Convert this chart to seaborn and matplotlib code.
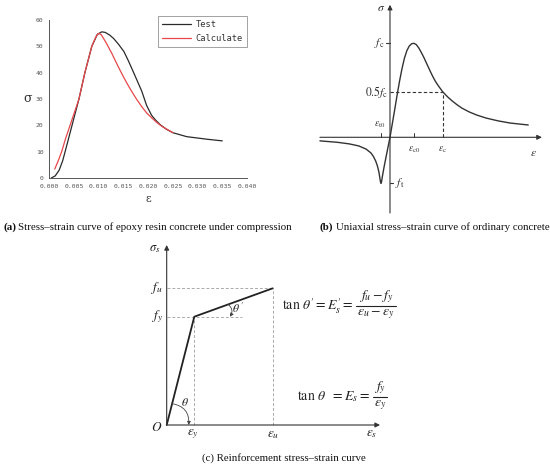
import matplotlib
matplotlib.use("Agg")
import matplotlib.pyplot as plt
from matplotlib.lines import Line2D
from matplotlib.ticker import AutoMinorLocator, FixedLocator
import seaborn as sns

# ---------------- data ----------------
# (a) epoxy resin concrete under compression
test_eps = [0.0004, 0.0012, 0.0020, 0.0027, 0.0032, 0.0039, 0.0046, 0.0053, 0.0060,
            0.0072, 0.0086, 0.0097, 0.0106, 0.0113, 0.0122, 0.0130, 0.0140, 0.0151,
            0.0160, 0.0170, 0.0180, 0.0187, 0.0197, 0.0207, 0.0215, 0.0224, 0.0237,
            0.0250, 0.0278, 0.0320, 0.0350]
test_sig = [0, 0.8, 3, 6.5, 10, 15, 20, 25, 30,
            40, 50, 54.5, 55.5, 55.3, 54.3, 53, 50.8, 48,
            44.5, 40.3, 36, 33, 27.5, 23.8, 22, 20.3, 18.5,
            17.2, 15.7, 14.7, 14.1]
calc_eps = [0.0011, 0.0018, 0.0025, 0.0033, 0.0042, 0.0051, 0.0060, 0.0072, 0.0086,
            0.0094, 0.0099, 0.0105, 0.0116, 0.0126, 0.0136, 0.0147, 0.0157, 0.0167,
            0.0177, 0.0187, 0.0197, 0.0208, 0.0218, 0.0228, 0.0238, 0.0250]
calc_sig = [3.4, 6.5, 10, 15, 20, 25, 30, 40, 50,
            53.5, 54.9, 54.5, 51, 47.5, 43.6, 39.5, 36, 32.8,
            29.8, 27.1, 24.7, 22.7, 21, 19.6, 18.5, 17.2]
a_xticks = [0.000, 0.005, 0.010, 0.015, 0.020, 0.025, 0.030, 0.035, 0.040]
a_yticks = [0, 10, 20, 30, 40, 50, 60]

# (b) ordinary concrete (normalised: eps / eps_c0, sigma / f_c)
conc_eps = [-2.92, -2.2, -1.7, -1.3, -1.0, -0.8, -0.7, -0.6, -0.53, -0.47, -0.43,
            -0.40, -0.375, -0.35, -0.32, -0.25, -0.15, 0,
            0.1, 0.2, 0.3, 0.4, 0.5, 0.6, 0.7, 0.8, 0.9, 1.0,
            1.1, 1.2, 1.3, 1.4, 1.5, 1.6, 1.7, 1.8, 1.9, 2.0, 2.19,
            2.4, 2.6, 2.8, 3.0, 3.3, 3.6, 4.0, 4.5, 5.0, 5.5, 5.76]
conc_sig = [-0.038, -0.053, -0.07, -0.092, -0.125, -0.165, -0.20, -0.25, -0.30, -0.36, -0.42,
            -0.47, -0.49, -0.47, -0.42, -0.32, -0.19, 0,
            0.15, 0.30, 0.455, 0.60, 0.73, 0.84, 0.92, 0.97, 0.995, 1.0,
            0.985, 0.95, 0.905, 0.855, 0.80, 0.745, 0.69, 0.638, 0.592, 0.553, 0.486,
            0.43, 0.385, 0.345, 0.31, 0.27, 0.238, 0.205, 0.175, 0.152, 0.138, 0.131]
eps_t0, eps_c0, eps_c = -0.375, 1.0, 2.19
f_c, half_fc, f_t = 1.0, 0.486, -0.49

# (c) reinforcement (normalised: eps / eps_y, sigma / f_y)
steel_eps = [0, 1.0, 3.84]
steel_sig = [0, 1.0, 1.262]

# ---------------- figure ----------------
sns.set_style("white")
plt.rcParams["mathtext.fontset"] = "stix"
plt.rcParams["font.family"] = ["DejaVu Sans"]

W, H = 550, 466
fig = plt.figure(figsize=(5.5, 4.66), dpi=100)
renderer = fig.canvas.get_renderer()


def px_axes(x0, y0, x1, y1):
    return fig.add_axes([x0 / W, 1 - y1 / H, (x1 - x0) / W, (y1 - y0) / H])


# ---------- (a) ----------
axa = px_axes(49.3, 20, 247, 178)
sns.lineplot(x=test_eps, y=test_sig, ax=axa, color="#2a2a2a", lw=0.9,
             sort=False, label="Test")
sns.lineplot(x=calc_eps, y=calc_sig, ax=axa, color="#e8474a", lw=0.9,
             sort=False, label="Calculate")
axa.set_xlim(0, 0.04)
axa.set_ylim(0, 60)
axa.xaxis.set_major_locator(FixedLocator(a_xticks))
axa.yaxis.set_major_locator(FixedLocator(a_yticks))
axa.set_xticklabels([f"{v:.3f}" for v in a_xticks], family="DejaVu Sans Mono")
axa.set_yticklabels([str(v) for v in a_yticks], family="DejaVu Sans Mono")
axa.xaxis.set_minor_locator(AutoMinorLocator(2))
axa.yaxis.set_minor_locator(AutoMinorLocator(2))
for s in ("top", "right"):
    axa.spines[s].set_visible(False)
for s in ("left", "bottom"):
    axa.spines[s].set_color("#555555")
    axa.spines[s].set_linewidth(0.7)
axa.tick_params(which="major", direction="out", length=2.5, width=0.6,
                color="#555555", labelsize=4.6, labelcolor="#555555", pad=1.5)
axa.tick_params(which="minor", direction="out", length=1.5, width=0.5, color="#555555")
axa.set_xlabel("ε", fontsize=8, family="DejaVu Serif", color="#333333", labelpad=4)
axa.set_ylabel("σ", fontsize=9, family="DejaVu Serif", color="#333333",
               rotation=0, labelpad=6, va="center")
leg = axa.legend(loc="upper right", bbox_to_anchor=(247 / W, 1 - 16 / H),
                 bbox_transform=fig.transFigure, frameon=True, fancybox=False,
                 prop={"family": "DejaVu Sans Mono", "size": 6.3},
                 handlelength=3.3, handletextpad=0.6, borderpad=0.45,
                 labelspacing=0.55, borderaxespad=0)
leg.get_frame().set_edgecolor("#777777")
leg.get_frame().set_linewidth(0.6)
for t in leg.get_texts():
    t.set_color("#333333")

# ---------- (b) ----------
axb = px_axes(300, 0, 550, 220)
axb.set_xlim(-3.75, 6.667)
axb.set_ylim(-0.8798, 1.4606)
axb.axis("off")
ink = "#333333"
arrow_kw = dict(arrowstyle="-|>", lw=0.8, color=ink, mutation_scale=7,
                shrinkA=0, shrinkB=0)
axb.annotate("", xy=(6.33, 0), xytext=(-2.92, 0), arrowprops=arrow_kw)
axb.annotate("", xy=(0, 1.41), xytext=(0, -0.805), arrowprops=arrow_kw)
sns.lineplot(x=conc_eps, y=conc_sig, ax=axb, color=ink, lw=1.0, sort=False)
axb.plot([0, eps_c], [half_fc, half_fc], color=ink, lw=0.8, dashes=(3, 2))
axb.plot([eps_c, eps_c], [0, half_fc], color=ink, lw=0.8, dashes=(3, 2))
axb.plot([-0.17, 0], [f_c, f_c], color=ink, lw=0.8)
axb.plot([0, 0.14], [f_t, f_t], color=ink, lw=0.8)
axb.plot([eps_t0, eps_t0], [0, 0.045], color=ink, lw=0.7)
axb.plot([eps_c0, eps_c0], [0, 0.045], color=ink, lw=0.7)
mt = dict(color=ink, ha="center", va="center")
axb.text(-0.375, 1.386, r"$\sigma$", fontsize=8.5, **mt)
axb.text(-0.22, f_c, r"$f_{\rm c}$", fontsize=8.5, color=ink, ha="right", va="center")
axb.text(-0.08, half_fc, r"$0.5f_{\rm c}$", fontsize=8.5, color=ink, ha="right", va="center")
axb.text(0.2, f_t, r"$f_{\rm t}$", fontsize=8.5, color=ink, ha="left", va="center")
axb.text(eps_t0 - 0.05, 0.13, r"$\varepsilon_{\rm t0}$", fontsize=7, **mt)
axb.text(eps_c0, -0.13, r"$\varepsilon_{\rm c0}$", fontsize=7, **mt)
axb.text(eps_c, -0.13, r"$\varepsilon_{\rm c}$", fontsize=7, **mt)
axb.text(5.96, -0.16, r"$\varepsilon$", fontsize=8.5, **mt)

# ---------- (c) ----------
axc = px_axes(140, 235, 420, 445)
axc.set_xlim(-0.967, 9.178)
axc.set_ylim(-0.1847, 1.7544)
axc.axis("off")
axc.annotate("", xy=(0, 1.662), xytext=(0, 0), arrowprops=arrow_kw)
axc.annotate("", xy=(7.73, 0), xytext=(0, 0), arrowprops=arrow_kw)
gkw = dict(color="#aaaaaa", lw=0.7, dashes=(3, 2))
axc.plot([0, steel_eps[2]], [steel_sig[2], steel_sig[2]], **gkw)
axc.plot([0, 2.72], [steel_sig[1], steel_sig[1]], **gkw)
axc.plot([steel_eps[1], steel_eps[1]], [0, steel_sig[1]], **gkw)
axc.plot([steel_eps[2], steel_eps[2]], [0, steel_sig[2]], **gkw)
sns.lineplot(x=steel_eps, y=steel_sig, ax=axc, color="#222222", lw=1.3, sort=False)
arc_kw = dict(arrowstyle="-|>", lw=0.6, color="#444444", mutation_scale=5,
              shrinkA=0, shrinkB=0)
axc.annotate("", xy=(0.797, 0.0), xytext=(0.196, 0.197),
             arrowprops=dict(connectionstyle="arc3,rad=-0.45", **arc_kw))
axc.annotate("", xy=(2.29, 1.0), xytext=(2.225, 1.114),
             arrowprops=dict(connectionstyle="arc3,rad=-0.45", **arc_kw))
ck = dict(color="#222222", ha="center", va="center")
axc.text(-0.42, 1.634, r"$\sigma_s$", fontsize=9, **ck)
axc.text(-0.12, steel_sig[2], r"$f_u$", fontsize=9.5, color="#222222", ha="right", va="center")
axc.text(-0.12, steel_sig[1], r"$f_y$", fontsize=9.5, color="#222222", ha="right", va="center")
axc.text(-0.35, -0.02, r"$O$", fontsize=9.5, **ck)
axc.text(0.95, -0.085, r"$\varepsilon_y$", fontsize=9.5, **ck)
axc.text(3.84, -0.085, r"$\varepsilon_u$", fontsize=9.5, **ck)
axc.text(7.43, -0.075, r"$\varepsilon_s$", fontsize=9.5, **ck)
axc.text(0.66, 0.205, r"$\theta$", fontsize=8.5, **ck)
axc.text(2.6, 1.075, r"$\theta\ '$", fontsize=8.5, **ck)


def equation(x_px, yc_px, lhs, num, den, size=10, bar_dy=0.5, gap=8.5):
    """lhs text followed by a stacked fraction; positions in figure pixels."""
    yb = 1 - (yc_px + bar_dy) / H
    t = fig.text(x_px / W, yb, lhs, fontsize=size, color="#222222",
                 ha="left", va="center")
    x1 = t.get_window_extent(renderer=renderer).x1
    tn = fig.text(0, 1 - (yc_px - gap) / H, num, fontsize=size, color="#222222",
                  ha="center", va="center")
    td = fig.text(0, 1 - (yc_px + gap) / H, den, fontsize=size, color="#222222",
                  ha="center", va="center")
    wn = tn.get_window_extent(renderer=renderer).width
    wd = td.get_window_extent(renderer=renderer).width
    wf = max(wn, wd) + 2
    xc = x1 + 3 + wf / 2
    tn.set_x(xc / W)
    td.set_x(xc / W)
    fig.add_artist(Line2D([(xc - wf / 2) / W, (xc + wf / 2) / W], [yb, yb],
                          transform=fig.transFigure, color="#222222", lw=0.8))


equation(282, 305.5, r"$\mathrm{tan}\ \theta' = E_s' =$",
         r"$f_u - f_y$", r"$\varepsilon_u - \varepsilon_y$")
equation(297, 396.5, r"$\mathrm{tan}\ \theta\ \ = E_s =$",
         r"$f_y$", r"$\varepsilon_y$")

# ---------- captions ----------
cap_font = "Liberation Serif"


def caption(x, y, tag, rest, size=7.85):
    t = fig.text(x / W, 1 - y / H, tag, fontsize=size, family=cap_font,
                 fontweight="bold", ha="left", va="center", color="#111111")
    bb = t.get_window_extent(renderer=renderer)
    fig.text((bb.x1 + 2.3) / W, 1 - y / H, rest, fontsize=size, family=cap_font,
             ha="left", va="center", color="#111111")


caption(3, 227, "(a)", "Stress–strain curve of epoxy resin concrete under compression")
caption(320, 227, "(b)", "Uniaxial stress–strain curve of ordinary concrete")
fig.text(284 / W, 1 - 458 / H, "(c) Reinforcement stress–strain curve", fontsize=7.85,
         family=cap_font, ha="center", va="center", color="#111111")

fig.savefig("out.png", dpi=100)
